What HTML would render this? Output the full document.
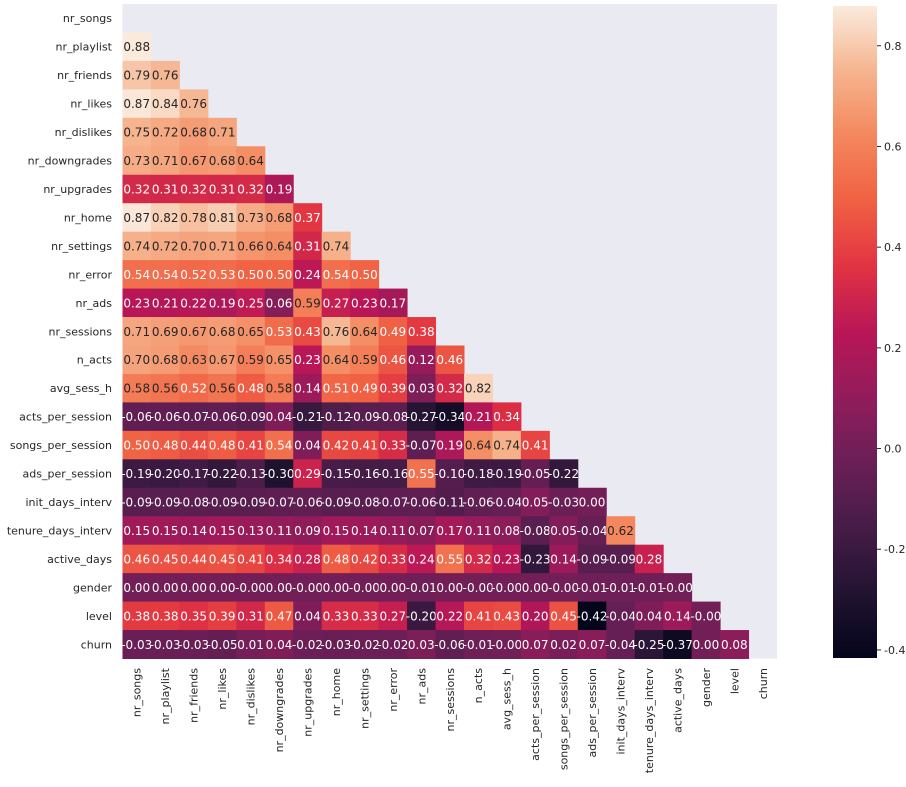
<!DOCTYPE html>
<html><head><meta charset="utf-8"><style>
body{margin:0;background:#fff;}
svg text{font-family:"DejaVu Sans","Liberation Sans",sans-serif;}
</style></head><body>
<svg id="chart" width="906" height="782">
<rect x="0" y="0" width="906" height="782" fill="#fff"/>
<rect x="122.5" y="4" width="654.5" height="654.5" fill="#eaeaf2"/>
<g id="cells"></g>
<g id="ylabels"></g>
<g id="xlabels"></g>
<defs><linearGradient id="cg" x1="0" y1="1" x2="0" y2="0"></linearGradient></defs>
<rect x="833" y="6" width="44" height="652" fill="url(#cg)"/>
<g id="cbticks"></g>
</svg>
<script>
const labels=["nr_songs","nr_playlist","nr_friends","nr_likes","nr_dislikes","nr_downgrades","nr_upgrades","nr_home","nr_settings","nr_error","nr_ads","nr_sessions","n_acts","avg_sess_h","acts_per_session","songs_per_session","ads_per_session","init_days_interv","tenure_days_interv","active_days","gender","level","churn"];
const rows=[
[],
[.88],
[.79,.76],
[.87,.84,.76],
[.75,.72,.68,.71],
[.73,.71,.67,.68,.64],
[.32,.31,.32,.31,.32,.19],
[.87,.82,.78,.81,.73,.68,.37],
[.74,.72,.70,.71,.66,.64,.31,.74],
[.54,.54,.52,.53,.50,.50,.24,.54,.50],
[.23,.21,.22,.19,.25,.06,.59,.27,.23,.17],
[.71,.69,.67,.68,.65,.53,.43,.76,.64,.49,.38],
[.70,.68,.63,.67,.59,.65,.23,.64,.59,.46,.12,.46],
[.58,.56,.52,.56,.48,.58,.14,.51,.49,.39,.03,.32,.82],
[-.06,-.06,-.07,-.06,-.09,.04,-.21,-.12,-.09,-.08,-.27,-.34,.21,.34],
[.50,.48,.44,.48,.41,.54,.04,.42,.41,.33,-.07,.19,.64,.74,.41],
[-.19,-.20,-.17,-.22,-.13,-.30,.29,-.15,-.16,-.16,.55,-.10,-.18,-.19,-.05,-.22],
[-.09,-.09,-.08,-.09,-.09,-.07,-.06,-.09,-.08,-.07,-.06,-.11,-.06,-.04,.05,-.03,.001],
[.15,.15,.14,.15,.13,.11,.09,.15,.14,.11,.07,.17,.11,.08,-.08,.05,-.04,.62],
[.46,.45,.44,.45,.41,.34,.28,.48,.42,.33,.24,.55,.32,.23,-.23,.14,-.09,-.09,.28],
[.001,.001,.001,.001,-.001,.001,-.001,.001,-.001,.001,-.01,.001,-.001,-.001,.001,-.001,-.01,-.01,-.01,-.001],
[.38,.38,.35,.39,.31,.47,.04,.33,.33,.27,-.20,.22,.41,.43,.20,.45,-.42,-.04,.04,.14,-.001],
[-.03,-.03,-.03,-.05,.01,.04,-.02,-.03,-.02,-.02,.03,-.06,-.01,-.001,.07,.02,.07,-.04,-.25,-.37,.001,.08]
];
const cbTicks=[0.8,0.6,0.4,0.2,0.0,-0.2,-0.4];
const vmin=-0.416,vmax=0.879;
const stops=[[3,5,26],[34,19,49],[69,28,71],[106,31,86],[146,28,91],[185,22,87],[225,51,66],[240,96,67],[244,135,94],[246,180,142],[250,235,221]];
const NS="http://www.w3.org/2000/svg";
const x0=122.5,y0=4,cs=654.5/23;
function cmap(v){let t=(v-vmin)/(vmax-vmin);t=Math.max(0,Math.min(1,t))*(stops.length-1);const i=Math.min(Math.floor(t),stops.length-2),f=t-i;
return stops[i].map((c,k)=>Math.round(c+(stops[i+1][k]-c)*f));}
function colX(j){return x0+j*cs;}
function rowY(i){return y0+i*cs;}
function mk(t,a,p){const e=document.createElementNS(NS,t);for(const k in a)e.setAttribute(k,a[k]);p.appendChild(e);return e;}
const gc=document.getElementById('cells');
rows.forEach((r,i)=>r.forEach((v,j)=>{
 const c=cmap(v);
 const rc=mk('rect',{x:colX(j),y:rowY(i),width:cs+0.5,height:cs+0.5,fill:`rgb(${c})`},gc);
 
 
 const tx=mk('text',{x:colX(j)+cs/2,y:rowY(i)+cs/2+4.5,'text-anchor':'middle','font-size':12,fill:v>0.555?'#262626':'#fff'},gc);
 tx.textContent=v.toFixed(2);
 
 
}));
const gy=document.getElementById('ylabels'),gx=document.getElementById('xlabels');
labels.forEach((l,i)=>{
 const t=mk('text',{x:112,y:rowY(i)+cs/2+4,'text-anchor':'end','font-size':11,fill:'#262626'},gy);
 t.textContent=l;
 
 
 const cx=colX(i)+cs/2+4;
 const u=mk('text',{x:cx,y:668,'text-anchor':'end','font-size':11,fill:'#262626',transform:`rotate(-90 ${cx} 668)`},gx);
 u.textContent=l;
 
 
});
const g=document.getElementById('cg');
for(let k=0;k<=20;k++){const v=vmin+(vmax-vmin)*k/20;mk('stop',{offset:k/20,'stop-color':`rgb(${cmap(v)})`},g);}
const gt=document.getElementById('cbticks');
cbTicks.forEach(v=>{
 const y=6+(vmax-v)/(vmax-vmin)*652;
 mk('line',{x1:877,x2:881,y1:y,y2:y,stroke:'#262626'},gt);
 const t=mk('text',{x:884,y:y+4,'font-size':11,fill:'#262626'},gt);
 t.textContent=v.toFixed(1);
 
 
});
</script>
</body></html>
